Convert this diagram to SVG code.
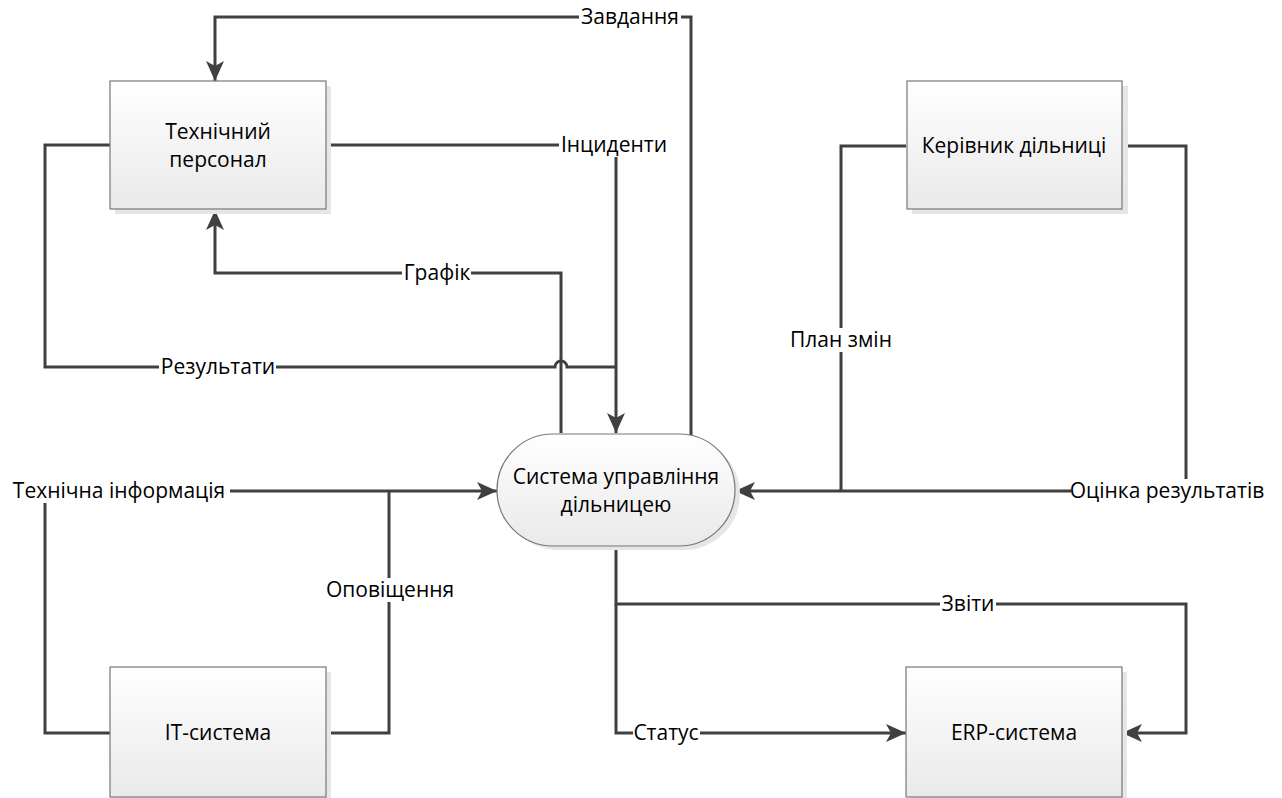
<svg xmlns="http://www.w3.org/2000/svg" width="1282" height="798" viewBox="0 0 1282 798">
<style>
.conn{fill:none;stroke:#404040;stroke-width:3;}
.box{fill:url(#g);stroke:#777;stroke-width:1.2;}
.sh{fill:#e6e6e6;}
.t{font-family:"Open Sans","Liberation Sans",sans-serif;font-size:21px;fill:#000;text-anchor:middle;}
.bg{fill:#fff;}
</style>
<defs>
<linearGradient id="g" x1="0" y1="0" x2="0" y2="1">
<stop offset="0" stop-color="#ffffff"/>
<stop offset="1" stop-color="#e9e9e9"/>
</linearGradient>
<marker id="a" viewBox="0 0 20 18" refX="20" refY="9" markerWidth="20" markerHeight="18" markerUnits="userSpaceOnUse" orient="auto">
<path d="M0,0 L20,9 L0,18 L5,9 Z" fill="#404040"/>
</marker>
</defs>
<rect width="1282" height="798" fill="#fff"/>
<g id="connectors">
<path class="conn" d="M691,435 V17 H215 V81" marker-end="url(#a)"/>
<path class="conn" d="M326,145 H616 V433" marker-end="url(#a)"/>
<path class="conn" d="M561,433 V273 H215 V210" marker-end="url(#a)"/>
<path class="conn" d="M110,145 H45 V367 H555 A6,6 0 0 1 567,367 H616"/>
<path class="conn" d="M110,733 H45 V491 H497" marker-end="url(#a)"/>
<path class="conn" d="M326,733 H389 V491"/>
<path class="conn" d="M906,146 H841 V491"/>
<path class="conn" d="M1122,146 H1186 V491 H735" marker-end="url(#a)"/>
<path class="conn" d="M616,546 V604 H1186 V733 H1122" marker-end="url(#a)"/>
<path class="conn" d="M616,604 V733 H906" marker-end="url(#a)"/>
<g id="labels">
<rect class="bg" x="579" y="5" width="102" height="24"/><text class="t" x="630" y="24">Завдання</text>
<rect class="bg" x="559" y="133" width="110" height="24"/><text class="t" x="614" y="152">Інциденти</text>
<rect class="bg" x="402" y="261" width="69" height="24"/><text class="t" x="437" y="280">Графік</text>
<rect class="bg" x="159" y="355" width="117" height="24"/><text class="t" x="218" y="374">Результати</text>
<rect class="bg" x="8" y="479" width="222" height="24"/><text class="t" x="119" y="498">Технічна інформація</text>
<rect class="bg" x="326" y="578" width="127" height="24"/><text class="t" x="390" y="597">Оповіщення</text>
<rect class="bg" x="789" y="328" width="105" height="24"/><text class="t" x="841" y="347">План змін</text>
<rect class="bg" x="1071" y="479" width="192" height="24"/><text class="t" x="1167" y="498">Оцінка результатів</text>
<rect class="bg" x="940" y="592" width="56" height="24"/><text class="t" x="968" y="611">Звіти</text>
<rect class="bg" x="633" y="721" width="67" height="24"/><text class="t" x="666" y="740">Статус</text>
</g>
</g>
<g id="node-tech">
<rect class="sh" x="115" y="86" width="216" height="128"/>
<rect class="box" x="110" y="81" width="216" height="128"/>
<text class="t" x="218" y="139">Технічний</text>
<text class="t" x="218" y="167">персонал</text>
</g>
<g id="node-manager">
<rect class="sh" x="912" y="86" width="216" height="128"/>
<rect class="box" x="907" y="81" width="215" height="128"/>
<text class="t" x="1014" y="153">Керівник дільниці</text>
</g>
<g id="node-system">
<rect class="sh" x="502" y="438" width="238" height="112" rx="56"/>
<rect class="box" x="497" y="434" width="238" height="112" rx="56"/>
<text class="t" x="616" y="484">Система управління</text>
<text class="t" x="616" y="512">дільницею</text>
</g>
<g id="node-it">
<rect class="sh" x="115" y="672" width="216" height="130"/>
<rect class="box" x="110" y="667" width="216" height="130"/>
<text class="t" x="218" y="740">IT-система</text>
</g>
<g id="node-erp">
<rect class="sh" x="911" y="672" width="216" height="130"/>
<rect class="box" x="906" y="667" width="216" height="130"/>
<text class="t" x="1014" y="740">ERP-система</text>
</g>
</svg>
